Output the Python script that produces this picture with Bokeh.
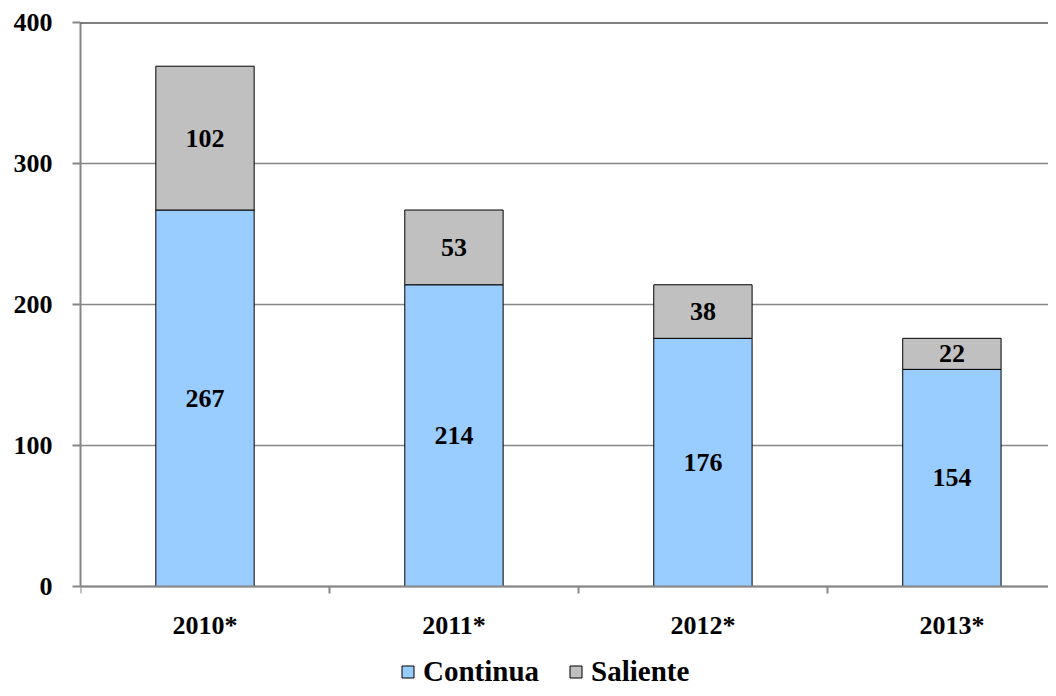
from bokeh.plotting import figure
from bokeh.models import ColumnDataSource, FixedTicker, Legend, LegendItem, Span, Range1d
from bokeh.core.properties import value
from bokeh.embed import file_html
from bokeh.resources import INLINE

years = ["2010*", "2011*", "2012*", "2013*"]
continua = [267, 214, 176, 154]
saliente = [102, 53, 38, 22]
y_ticks = [0, 100, 200, 300, 400]

FONT = "Liberation Serif"
FS = "26px"

xs = [i + 1 for i in range(len(years))]
src = ColumnDataSource(dict(
    x=xs,
    cont=continua,
    sal=saliente,
    top=[c + s for c, s in zip(continua, saliente)],
    cont_mid=[c / 2 for c in continua],
    sal_mid=[c + s / 2 for c, s in zip(continua, saliente)],
    cont_lbl=[str(v) for v in continua],
    sal_lbl=[str(v) for v in saliente],
))

# frame spans to the canvas bottom; the x axis is pinned at y=0 so that the
# legend can sit below the tick labels inside the frame
p = figure(width=1048, height=688, output_backend="svg", toolbar_location=None,
           x_range=Range1d(0.5, 4.388), y_range=Range1d(-72.34, 400),
           min_border_left=80, min_border_top=22, min_border_right=0, min_border_bottom=0)
p.outline_line_color = None
p.background_fill_color = "white"
p.border_fill_color = "white"

r1 = p.vbar(x="x", bottom=0, top="cont", width=0.395, source=src,
            fill_color="#99CCFF", line_color="black", line_width=1)
r2 = p.vbar(x="x", bottom="cont", top="top", width=0.395, source=src,
            fill_color="#C0C0C0", line_color="black", line_width=1)

for col, ycol in (("cont_lbl", "cont_mid"), ("sal_lbl", "sal_mid")):
    p.text(x="x", y=ycol, text=col, source=src, text_align="center", text_baseline="middle",
           text_font=value(FONT), text_font_style="bold", text_font_size=FS, text_color="black")

p.add_layout(Span(location=400, dimension="width", line_color="black", line_width=2))

# x axis
p.xaxis.fixed_location = 0
p.xaxis.ticker = FixedTicker(ticks=xs, minor_ticks=[0.5, 1.5, 2.5, 3.5, 4.5])
p.xaxis.major_label_overrides = {x: y for x, y in zip(xs, years)}
p.xaxis.major_tick_line_color = None
p.xaxis.major_tick_out = 7
p.xaxis.major_tick_in = 0
p.xaxis.minor_tick_out = 7
p.xaxis.minor_tick_in = 0
p.xaxis.minor_tick_line_color = "#868686"
p.xaxis.minor_tick_line_width = 2
p.xaxis.axis_line_color = "#868686"
p.xaxis.axis_line_width = 2
p.xaxis.major_label_standoff = 17
p.xaxis.major_label_text_font = FONT
p.xaxis.major_label_text_font_style = "bold"
p.xaxis.major_label_text_font_size = FS
p.xaxis.major_label_text_color = "black"
p.xgrid.grid_line_color = None

# y axis
p.yaxis.bounds = (0, 400)
p.yaxis.ticker = FixedTicker(ticks=y_ticks, minor_ticks=[])
p.yaxis.major_tick_out = 8
p.yaxis.major_tick_in = 0
p.yaxis.major_tick_line_color = "#868686"
p.yaxis.major_tick_line_width = 2
p.yaxis.axis_line_color = "#868686"
p.yaxis.axis_line_width = 2
p.yaxis.major_label_standoff = 20
p.yaxis.major_label_text_font = FONT
p.yaxis.major_label_text_font_style = "bold"
p.yaxis.major_label_text_font_size = FS
p.yaxis.major_label_text_color = "black"
p.ygrid.grid_line_color = "#868686"
p.ygrid.grid_line_width = 1.5

legend = Legend(items=[LegendItem(label="Continua", renderers=[r1]),
                       LegendItem(label="Saliente", renderers=[r2])],
                orientation="horizontal", location=(320, 0),
                glyph_width=15, glyph_height=15, label_standoff=8, spacing=29,
                padding=0, margin=0, border_line_color=None, background_fill_alpha=0,
                label_text_font=FONT, label_text_font_style="bold",
                label_text_font_size="29px", label_text_color="black")
p.add_layout(legend, "center")

open("out.html", "w").write(file_html(p, INLINE))
